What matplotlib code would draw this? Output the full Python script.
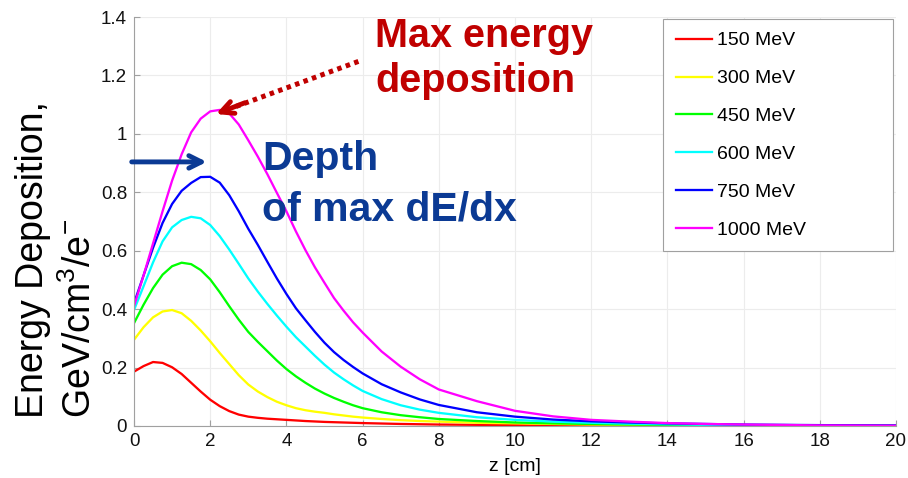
import matplotlib
matplotlib.use("Agg")
import matplotlib.pyplot as plt

plt.rcParams["font.family"] = ["Liberation Sans", "DejaVu Sans"]

# depth [cm]
z_cm = [0, 0.25, 0.5, 0.75, 1, 1.25, 1.5, 1.75, 2, 2.25, 2.5, 2.75, 3, 3.25,
        3.5, 3.75, 4, 4.25, 4.5, 4.75, 5, 5.25, 5.5, 5.75, 6, 6.5, 7, 7.5, 8,
        9, 10, 11, 12, 13, 14, 15, 16, 18, 20]

# energy deposition, GeV/cm^3/e-
e_150 = [0.186, 0.205, 0.219, 0.216, 0.201, 0.178, 0.148, 0.118, 0.090, 0.068,
         0.051, 0.039, 0.032, 0.028, 0.025, 0.023, 0.021, 0.019, 0.017, 0.0155,
         0.014, 0.013, 0.012, 0.011, 0.010, 0.0085, 0.007, 0.006, 0.005, 0.004,
         0.003, 0.002, 0.0015, 0.0012, 0.001, 0.0008, 0.0005, 0.0003, 0.0002]
e_300 = [0.295, 0.338, 0.372, 0.392, 0.397, 0.386, 0.360, 0.327, 0.290, 0.250,
         0.212, 0.174, 0.142, 0.118, 0.099, 0.083, 0.071, 0.061, 0.054, 0.049,
         0.045, 0.040, 0.036, 0.032, 0.029, 0.024, 0.020, 0.017, 0.015, 0.011,
         0.009, 0.007, 0.005, 0.004, 0.003, 0.0025, 0.002, 0.001, 0.0005]
e_450 = [0.352, 0.415, 0.472, 0.518, 0.547, 0.559, 0.554, 0.534, 0.502, 0.458,
         0.410, 0.364, 0.322, 0.288, 0.256, 0.224, 0.195, 0.170, 0.148, 0.128,
         0.111, 0.096, 0.083, 0.071, 0.061, 0.047, 0.037, 0.030, 0.024, 0.017,
         0.012, 0.009, 0.007, 0.005, 0.004, 0.003, 0.002, 0.0012, 0.0008]
e_600 = [0.397, 0.478, 0.560, 0.632, 0.680, 0.705, 0.716, 0.711, 0.688, 0.650,
         0.604, 0.555, 0.505, 0.460, 0.418, 0.378, 0.340, 0.304, 0.272, 0.240,
         0.210, 0.183, 0.160, 0.139, 0.120, 0.092, 0.071, 0.056, 0.045, 0.030,
         0.021, 0.015, 0.011, 0.008, 0.006, 0.004, 0.003, 0.002, 0.001]
e_750 = [0.420, 0.515, 0.610, 0.695, 0.760, 0.805, 0.832, 0.852, 0.853, 0.833,
         0.790, 0.735, 0.675, 0.620, 0.562, 0.505, 0.452, 0.403, 0.362, 0.322,
         0.285, 0.253, 0.226, 0.202, 0.180, 0.143, 0.115, 0.091, 0.072, 0.047,
         0.032, 0.022, 0.016, 0.012, 0.009, 0.007, 0.005, 0.003, 0.002]
e_1000 = [0.410, 0.515, 0.625, 0.735, 0.840, 0.930, 1.005, 1.052, 1.077, 1.082,
          1.070, 1.032, 0.978, 0.922, 0.862, 0.798, 0.735, 0.666, 0.602, 0.543,
          0.490, 0.438, 0.395, 0.355, 0.320, 0.255, 0.203, 0.160, 0.125, 0.085,
          0.052, 0.033, 0.021, 0.015, 0.010, 0.007, 0.005, 0.002, 0.001]

labels = ["150 MeV", "300 MeV", "450 MeV", "600 MeV", "750 MeV", "1000 MeV"]
colors = ["#ff0000", "#ffff00", "#00ff00", "#00ffff", "#0000ff", "#ff00ff"]
series = [e_150, e_300, e_450, e_600, e_750, e_1000]

fig = plt.figure(figsize=(9.08, 4.78), dpi=100)
ax = fig.add_axes([134 / 908, 1 - 426 / 478, 762 / 908, 409 / 478])

for vals, col, lab in zip(series, colors, labels):
    ax.plot(z_cm, vals, color=col, lw=1.65, label=lab, solid_joinstyle="round")

ax.set_xlim(0, 20)
ax.set_ylim(0, 1.4)
ax.set_xticks(range(0, 21, 2))
ax.set_yticks([0, 0.2, 0.4, 0.6, 0.8, 1.0, 1.2, 1.4])
ax.set_yticklabels(["0", "0.2", "0.4", "0.6", "0.8", "1", "1.2", "1.4"])
ax.grid(True, color="#ececec", lw=0.8)
ax.set_axisbelow(True)
for s in ["top", "right"]:
    ax.spines[s].set_visible(False)
for s in ["left", "bottom"]:
    ax.spines[s].set_color("#a0a0a0")
ax.tick_params(direction="in", length=4, color="#a0a0a0", labelsize=13.5,
               labelcolor="#111111", pad=5)

ax.set_xlabel("z [cm]", fontsize=14)
ax.xaxis.set_label_coords(0.5, -0.078)

fig.text(33 / 908, 1 - 418 / 478, "Energy Deposition,", rotation=90,
         fontsize=27, ha="center", va="bottom")
fig.text(80 / 908, 1 - 418 / 478,
         r"GeV/cm$^{\mathregular{3}}$/e$^{\mathregular{-}}$", rotation=90,
         fontsize=27, ha="center", va="bottom")

leg = ax.legend(loc="upper right", bbox_to_anchor=(0.694, 0.4, 0.302, 0.595),
                mode="expand", borderaxespad=0, fontsize=14, frameon=True,
                fancybox=False, edgecolor="#a0a0a0", framealpha=1,
                handlelength=1.85, handletextpad=0.3, labelspacing=1.04,
                borderpad=0.66)
leg.get_frame().set_linewidth(0.8)

# annotations
red = "#c00000"
navy = "#0b3a94"
ax.text(6.33, 1.298, "Max energy", color=red, fontsize=28.5, fontweight="bold",
        va="baseline", ha="left")
ax.text(6.33, 1.144, "deposition", color=red, fontsize=28.5, fontweight="bold",
        va="baseline", ha="left")
ax.text(3.36, 0.877, "Depth", color=navy, fontsize=29.5, fontweight="bold",
        va="baseline", ha="left")
ax.text(3.36, 0.705, "of max dE/dx", color=navy, fontsize=29.5,
        fontweight="bold", va="baseline", ha="left")

ax.annotate("", xy=(2.6, 1.09), xytext=(5.89, 1.248),
            arrowprops=dict(arrowstyle="-", color=red, lw=3.6,
                            linestyle=(0, (0.9, 0.9)),
                            capstyle="butt", shrinkA=0, shrinkB=0))
ax.annotate("", xy=(2.15, 1.068), xytext=(2.9, 1.106),
            arrowprops=dict(arrowstyle="->,head_length=0.9,head_width=0.45",
                            color=red, lw=3.5, shrinkA=0, shrinkB=0))
ax.annotate("", xy=(1.91, 0.904), xytext=(-0.06, 0.904),
            arrowprops=dict(arrowstyle="->,head_length=0.9,head_width=0.45",
                            color=navy, lw=3.5, shrinkA=0, shrinkB=0),
            annotation_clip=False)

fig.savefig("out.png", dpi=100)
